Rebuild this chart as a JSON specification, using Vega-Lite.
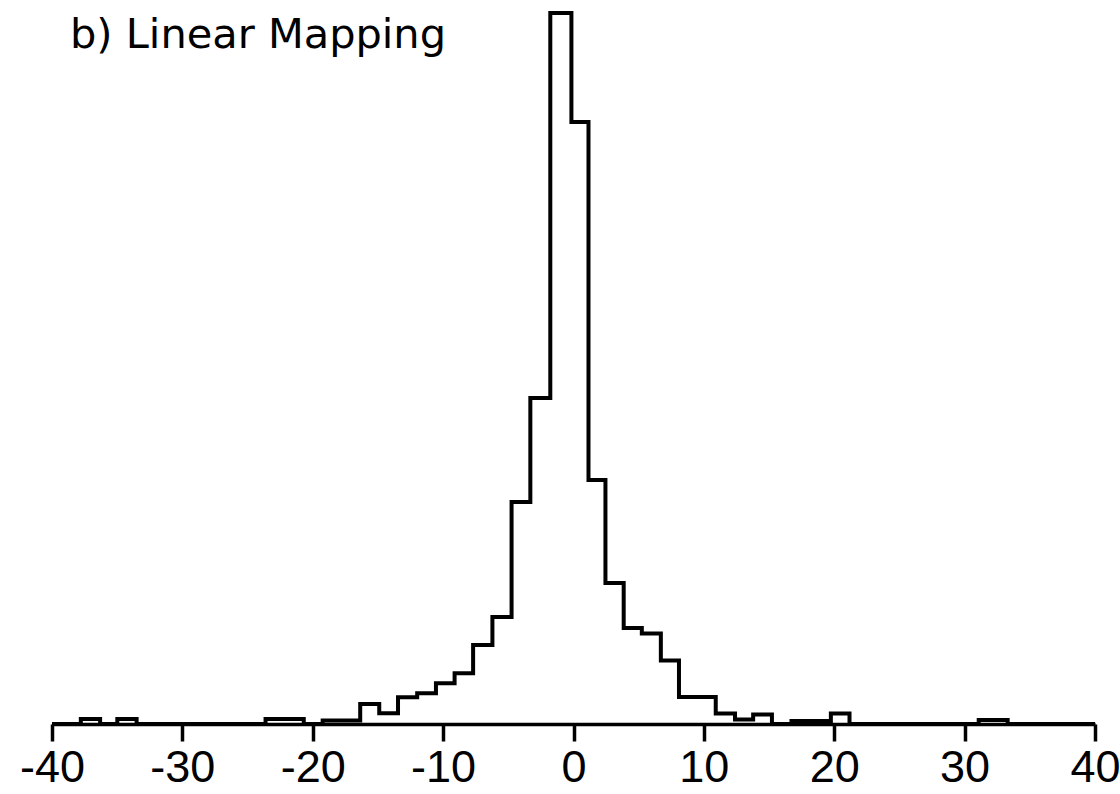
{
  "$schema": "https://vega.github.io/schema/vega-lite/v6.json",
  "width": 1043,
  "height": 711,
  "autosize": "none",
  "padding": {"left": 52, "top": 13, "right": 25, "bottom": 70},
  "background": "white",
  "title": {
    "text": "b) Linear Mapping",
    "anchor": "start",
    "frame": "group",
    "font": "DejaVu Sans",
    "fontSize": 41.5,
    "fontWeight": "normal",
    "color": "black",
    "baseline": "alphabetic",
    "offset": 0,
    "dx": 18,
    "dy": 84
  },
  "config": {"view": {"stroke": null}},
  "data": {
    "values": [
      {"bin_start": -40, "count": 0},
      {"bin_start": -37.79, "count": 5},
      {"bin_start": -36.31, "count": 0},
      {"bin_start": -34.99, "count": 5},
      {"bin_start": -33.51, "count": 0},
      {"bin_start": -23.62, "count": 5},
      {"bin_start": -20.69, "count": 0},
      {"bin_start": -19.24, "count": 3.5},
      {"bin_start": -16.36, "count": 20},
      {"bin_start": -14.9, "count": 10.7},
      {"bin_start": -13.46, "count": 26.7},
      {"bin_start": -11.99, "count": 30.7},
      {"bin_start": -10.55, "count": 40.7},
      {"bin_start": -9.12, "count": 50.7},
      {"bin_start": -7.7, "count": 79},
      {"bin_start": -6.22, "count": 107},
      {"bin_start": -4.75, "count": 222},
      {"bin_start": -3.31, "count": 326},
      {"bin_start": -1.78, "count": 711},
      {"bin_start": -0.16, "count": 602},
      {"bin_start": 1.15, "count": 244},
      {"bin_start": 2.45, "count": 141},
      {"bin_start": 3.85, "count": 96},
      {"bin_start": 5.24, "count": 90.5},
      {"bin_start": 6.7, "count": 63.5},
      {"bin_start": 8.09, "count": 27},
      {"bin_start": 9.5, "count": 27},
      {"bin_start": 10.91, "count": 10.5},
      {"bin_start": 12.39, "count": 4.5},
      {"bin_start": 13.78, "count": 9.5},
      {"bin_start": 15.22, "count": 0},
      {"bin_start": 16.72, "count": 3},
      {"bin_start": 18.2, "count": 3},
      {"bin_start": 19.74, "count": 10.5},
      {"bin_start": 21.17, "count": 0},
      {"bin_start": 31.08, "count": 4},
      {"bin_start": 33.3, "count": 0},
      {"bin_start": 40, "count": 0}
    ]
  },
  "mark": {
    "type": "line",
    "interpolate": "step-after",
    "color": "black",
    "strokeWidth": 4,
    "strokeJoin": "miter",
    "clip": false
  },
  "encoding": {
    "x": {
      "field": "bin_start",
      "type": "quantitative",
      "scale": {"domain": [-40, 40], "nice": false, "zero": false},
      "axis": {
        "values": [-40, -30, -20, -10, 0, 10, 20, 30, 40],
        "title": null,
        "grid": false,
        "domainColor": "black",
        "domainWidth": 3.5,
        "tickColor": "black",
        "tickWidth": 3.5,
        "tickSize": 17,
        "labelFont": "Liberation Sans",
        "labelFontSize": 45,
        "labelColor": "black",
        "labelPadding": 4,
        "labelDx": -5,
        "labelFlush": false,
        "labelOverlap": false,
        "labelExpr": "replace(datum.label, '−', '-')"
      }
    },
    "y": {
      "field": "count",
      "type": "quantitative",
      "scale": {"domain": [0, 711], "nice": false},
      "axis": null
    }
  }
}
